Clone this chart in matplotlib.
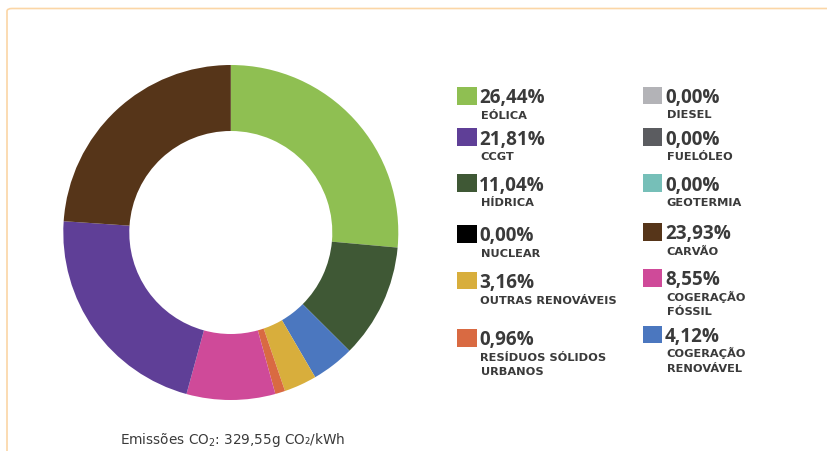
import matplotlib
matplotlib.use("Agg")
import matplotlib.pyplot as plt
from matplotlib.patches import Rectangle, FancyBboxPatch

# ---- data ----
sources = ["EÓLICA", "CCGT", "HÍDRICA", "NUCLEAR", "OUTRAS RENOVÁVEIS",
           "RESÍDUOS SÓLIDOS\nURBANOS", "DIESEL", "FUELÓLEO", "GEOTERMIA",
           "CARVÃO", "COGERAÇÃO\nFÓSSIL", "COGERAÇÃO\nRENOVÁVEL"]
shares = [26.44, 21.81, 11.04, 0.00, 3.16, 0.96, 0.00, 0.00, 0.00, 23.93, 8.55, 4.12]
colors = ["#8fbf52", "#5f3f97", "#3f5835", "#000000", "#d8ae3c", "#d96a42",
          "#b3b3b7", "#5b5c60", "#76bfb8", "#563519", "#cf4a99", "#4b77bf"]
# clockwise order of slices from 12 o'clock
pie_order = ["EÓLICA", "HÍDRICA", "COGERAÇÃO\nRENOVÁVEL", "OUTRAS RENOVÁVEIS",
             "RESÍDUOS SÓLIDOS\nURBANOS", "COGERAÇÃO\nFÓSSIL", "CCGT", "CARVÃO",
             "NUCLEAR", "DIESEL", "FUELÓLEO", "GEOTERMIA"]
emission_text = "Emissões CO$_2$: 329,55g CO₂/kWh"

W, H = 827, 452
fig = plt.figure(figsize=(W / 100, H / 100), dpi=100)
fig.patch.set_facecolor("white")

def fx(x):
    return x / W

def fy(y):
    return 1 - y / H

TXT = "#3a3a3a"
FONT_PCT = ["Open Sans", "DejaVu Sans"]
FONT_LBL = ["DejaVu Sans"]
FONT_FOOT = ["DejaVu Sans"]

# border
border = FancyBboxPatch((fx(7), fy(470)), fx(860 - 7), (470 - 9.5) / H,
                        boxstyle="round,pad=0,rounding_size=0.006",
                        transform=fig.transFigure, facecolor="none",
                        edgecolor="#fbd6a6", linewidth=1.2, clip_on=False)
fig.patches.append(border)

# pie
cx, cy, r = 230.8, 233.5, 167.5
ax = fig.add_axes([fx(cx - r), fy(cy + r), 2 * r / W, 2 * r / H])
idx = [sources.index(s) for s in pie_order]
vals = [shares[i] for i in idx]
cols = [colors[i] for i in idx]
ax.pie(vals, colors=cols, startangle=90, counterclock=False, radius=1,
       wedgeprops=dict(width=0.394, linewidth=0, edgecolor="none"))
ax.set_xlim(-1, 1)
ax.set_ylim(-1, 1)
ax.set_aspect("equal")
ax.axis("off")

# legend (layout)
col_sw_x = [457.3, 642.5]
col_tx_x = [479, 665]
row_tops = [[88, 129, 175.3, 226, 272.7, 330],
            [87.5, 129, 175.3, 224, 270, 326.7]]
sw = 19.5
for k, (name, val, c) in enumerate(zip(sources, shares, colors)):
    col = k // 6
    row = k % 6
    top = row_tops[col][row]
    fig.patches.append(Rectangle((fx(col_sw_x[col]), fy(top + 17.7)), sw / W, 17.7 / H,
                                 transform=fig.transFigure, facecolor=c,
                                 edgecolor="none"))
    pct = f"{val:.2f}%".replace(".", ",")
    fig.text(fx(col_tx_x[col]), fy(top + 15.5), pct, fontsize=13.6,
             fontweight="bold", color=TXT, family=FONT_PCT, va="baseline", ha="left")
    for j, line in enumerate(name.split("\n")):
        fig.text(fx(col_tx_x[col] + 1.5), fy(top + 30.8 + 14 * j), line, fontsize=8.2,
                 fontweight="bold", color=TXT, family=FONT_LBL, va="baseline",
                 ha="left")

fig.text(fx(233), fy(444), emission_text, fontsize=9.8, color=TXT,
         family=FONT_FOOT, ha="center", va="baseline")

fig.savefig("out.png", dpi=100, facecolor="white")
